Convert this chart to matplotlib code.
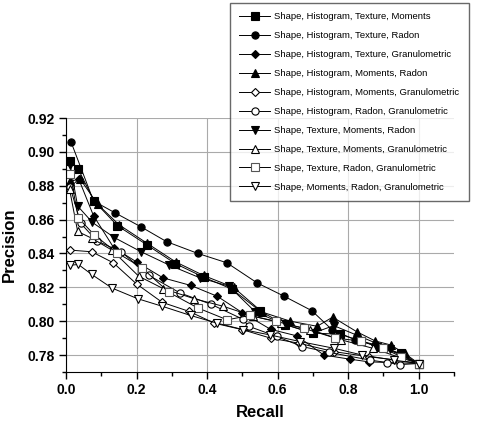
import matplotlib
matplotlib.use("Agg")
import matplotlib.pyplot as plt
from matplotlib.ticker import MultipleLocator

plt.rcParams['font.family'] = ['Liberation Sans', 'DejaVu Sans']

labels = [
    "Shape, Histogram, Texture, Moments",
    "Shape, Histogram, Texture, Radon",
    "Shape, Histogram, Texture, Granulometric",
    "Shape, Histogram, Moments, Radon",
    "Shape, Histogram, Moments, Granulometric",
    "Shape, Histogram, Radon, Granulometric",
    "Shape, Texture, Moments, Radon",
    "Shape, Texture, Moments, Granulometric",
    "Shape, Texture, Radon, Granulometric",
    "Shape, Moments, Radon, Granulometric",
]

s1_x = [0.012, 0.035, 0.080, 0.146, 0.23, 0.31, 0.39, 0.47, 0.55, 0.62, 0.70, 0.776, 0.837, 0.882, 0.95, 1.0]
s1_y = [0.8945, 0.8897, 0.8708, 0.8564, 0.845, 0.834, 0.826, 0.819, 0.806, 0.798, 0.793, 0.7923, 0.7883, 0.785, 0.781, 0.775]

s2_x = [0.014, 0.078, 0.139, 0.212, 0.285, 0.374, 0.456, 0.542, 0.617, 0.697, 0.754, 0.82, 0.88, 0.95, 1.0]
s2_y = [0.906, 0.871, 0.864, 0.8558, 0.847, 0.840, 0.8345, 0.8226, 0.8149, 0.8062, 0.795, 0.789, 0.786, 0.780, 0.775]

s3_x = [0.012, 0.036, 0.078, 0.135, 0.20, 0.275, 0.354, 0.429, 0.50, 0.58, 0.655, 0.731, 0.804, 0.858, 1.0]
s3_y = [0.879, 0.884, 0.8623, 0.8435, 0.835, 0.8256, 0.8211, 0.8147, 0.805, 0.7952, 0.7913, 0.780, 0.7776, 0.776, 0.775]

s4_x = [0.011, 0.040, 0.090, 0.15, 0.23, 0.311, 0.39, 0.475, 0.556, 0.636, 0.712, 0.756, 0.825, 0.877, 0.92, 0.96, 1.0]
s4_y = [0.8826, 0.884, 0.869, 0.857, 0.846, 0.835, 0.827, 0.820, 0.8054, 0.800, 0.797, 0.8024, 0.7937, 0.7883, 0.786, 0.781, 0.775]

s5_x = [0.011, 0.073, 0.134, 0.20, 0.273, 0.349, 0.421, 0.50, 0.58, 0.66, 0.76, 0.86, 0.94, 1.0]
s5_y = [0.842, 0.841, 0.8345, 0.822, 0.8111, 0.8058, 0.7988, 0.795, 0.790, 0.787, 0.782, 0.779, 0.777, 0.775]

s6_x = [0.012, 0.042, 0.088, 0.157, 0.234, 0.323, 0.41, 0.501, 0.518, 0.597, 0.67, 0.745, 0.863, 0.91, 0.948, 1.0]
s6_y = [0.879, 0.8577, 0.8474, 0.8409, 0.8272, 0.8167, 0.8101, 0.8012, 0.797, 0.791, 0.785, 0.7816, 0.777, 0.7756, 0.7744, 0.775]

s7_x = [0.012, 0.033, 0.075, 0.137, 0.212, 0.292, 0.38, 0.462, 0.537, 0.617, 0.70, 0.759, 0.919, 0.952, 1.0]
s7_y = [0.892, 0.868, 0.8583, 0.8494, 0.8411, 0.8332, 0.8256, 0.8207, 0.8054, 0.7984, 0.7929, 0.7974, 0.7836, 0.7796, 0.775]

s8_x = [0.010, 0.033, 0.073, 0.13, 0.206, 0.275, 0.363, 0.446, 0.53, 0.61, 0.693, 0.78, 0.87, 0.94, 1.0]
s8_y = [0.878, 0.853, 0.849, 0.842, 0.8266, 0.8193, 0.8133, 0.8088, 0.803, 0.799, 0.795, 0.789, 0.784, 0.779, 0.775]

s9_x = [0.012, 0.035, 0.080, 0.144, 0.215, 0.292, 0.374, 0.457, 0.521, 0.594, 0.674, 0.764, 0.835, 0.90, 0.95, 1.0]
s9_y = [0.8867, 0.861, 0.851, 0.8405, 0.8316, 0.817, 0.8078, 0.8008, 0.8034, 0.800, 0.7958, 0.790, 0.7883, 0.784, 0.779, 0.775]

s10_x = [0.010, 0.035, 0.073, 0.13, 0.203, 0.273, 0.353, 0.429, 0.503, 0.578, 0.663, 0.76, 0.84, 0.93, 1.0]
s10_y = [0.833, 0.8335, 0.8276, 0.8196, 0.8133, 0.8088, 0.8034, 0.7988, 0.795, 0.7919, 0.788, 0.784, 0.780, 0.777, 0.775]

xs = [s1_x, s2_x, s3_x, s4_x, s5_x, s6_x, s7_x, s8_x, s9_x, s10_x]
ys = [s1_y, s2_y, s3_y, s4_y, s5_y, s6_y, s7_y, s8_y, s9_y, s10_y]

styles = [
    dict(marker='s', mfc='black', mec='black'),
    dict(marker='o', mfc='black', mec='black'),
    dict(marker='D', mfc='black', mec='black', ms=4.3),
    dict(marker='^', mfc='black', mec='black'),
    dict(marker='D', mfc='white', mec='black', ms=4.3),
    dict(marker='o', mfc='white', mec='black'),
    dict(marker='v', mfc='black', mec='black'),
    dict(marker='^', mfc='white', mec='black'),
    dict(marker='s', mfc='white', mec='#555555'),
    dict(marker='v', mfc='white', mec='black'),
]

fig = plt.figure(figsize=(4.78, 4.22), dpi=100)
ax = fig.add_axes([66/478, 50/422, 388/478, 254/422])

handles = []
for x, y, lab, st in zip(xs, ys, labels, styles):
    kw = dict(ms=5.2, mew=0.8)
    kw.update(st)
    h, = ax.plot(x, y, color='black', lw=0.7, label=lab, **kw)
    handles.append(h)

ax.set_xlim(0, 1.1)
ax.set_ylim(0.77, 0.92)
ax.xaxis.set_major_locator(MultipleLocator(0.2))
ax.xaxis.set_minor_locator(MultipleLocator(0.1))
ax.yaxis.set_major_locator(MultipleLocator(0.02))
ax.yaxis.set_minor_locator(MultipleLocator(0.01))
ax.set_xticks([0.0, 0.2, 0.4, 0.6, 0.8, 1.0])
ax.set_xticklabels(["0.0", "0.2", "0.4", "0.6", "0.8", "1.0"])
ax.grid(True, which='major', color='#aaaaaa', lw=0.8)
ax.set_axisbelow(True)
for sp in ['top', 'right']:
    ax.spines[sp].set_visible(False)
ax.tick_params(which='both', direction='out', width=1)
ax.tick_params(which='major', length=5, labelsize=10, pad=3)
ax.tick_params(which='minor', length=3)
for t in ax.get_xticklabels() + ax.get_yticklabels():
    t.set_fontweight('bold')
ax.set_xlabel("Recall", fontsize=12, fontweight='bold', labelpad=6)
ax.set_ylabel("Precision", fontsize=12, fontweight='bold', labelpad=8)

leg = fig.legend(handles=handles, loc='upper left',
                 bbox_to_anchor=(230/478, 1 - 3/422), fontsize=6.8,
                 frameon=True, fancybox=False, borderpad=1.0,
                 labelspacing=1.05, handlelength=3.2, handletextpad=0.5,
                 borderaxespad=0)
leg.get_frame().set_edgecolor('#444444')
leg.get_frame().set_linewidth(1.0)

fig.savefig("out.png", dpi=100)
